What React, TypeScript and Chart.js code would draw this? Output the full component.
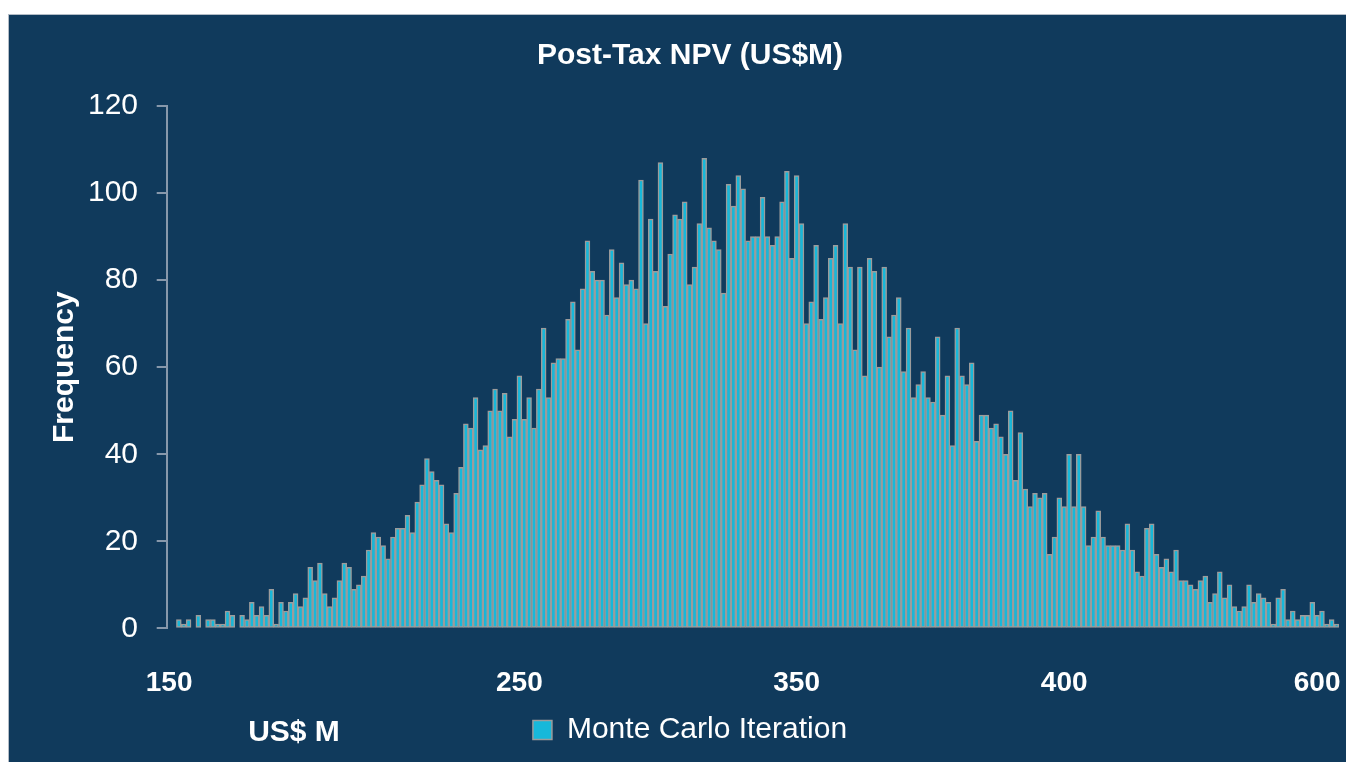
import React, { useEffect, useRef } from "react";
import { Chart, registerables } from "chart.js";

Chart.register(...registerables);

// Histogram bin frequencies (Monte Carlo iterations per NPV bin), left to right
const frequencies: number[] = [
  0, 0,
  2, 1, 2, 0, 3, 0, 2, 2, 1, 1, 4, 3, 0, 3, 2, 6, 3, 5, 3, 9, 1, 6, 4, 6, 8, 5, 7, 14, 11, 15, 8, 5, 7, 11, 15, 14, 9, 10,
  12, 18, 22, 21, 19, 16, 21, 23, 23, 26, 22, 29, 33, 39, 36, 34, 33, 24, 22, 31, 37, 47, 46, 53, 41, 42, 50, 55, 50, 54, 44, 48, 58, 48, 53, 46, 55,
  69, 53, 61, 62, 62, 71, 75, 64, 78, 89, 82, 80, 80, 72, 87, 76, 84, 79, 80, 78, 103, 70, 94, 82, 107, 74, 86, 95, 94, 98, 79, 83, 93, 108, 92, 89, 87, 77, 102,
  97, 104, 101, 89, 90, 90, 99, 90, 88, 90, 98, 105, 85, 104, 93, 70, 75, 88, 71, 76, 85, 88, 70, 93, 83, 64, 83, 58, 85, 82, 60, 83, 67, 72, 76, 59, 69, 53, 56,
  59, 53, 52, 67, 49, 58, 42, 69, 58, 56, 61, 43, 49, 49, 46, 47, 44, 40, 50, 34, 45, 32, 28, 31, 30, 31, 17, 21, 30, 28, 40, 28, 40, 28, 19, 21, 27, 21, 19, 19, 19,
  18, 24, 18, 13, 12, 23, 24, 17, 14, 16, 13, 18, 11, 11, 10, 9, 11, 12, 6, 8, 13, 7, 10, 5, 4, 5, 10, 6, 8, 7, 6, 1, 7, 9, 2, 4, 2, 3, 3, 6, 3, 4, 1, 2, 1,
];

// X axis labels shown under certain bins
const tickLabels: string[] = ["150", "250", "350", "400", "600"];
const tickBinIndices: number[] = [0, 72, 129, 184, 236];

// Y axis ticks
const yMin = 0;
const yMax = 120;
const yStep = 20;

const chartTitle = "Post-Tax NPV (US$M)";
const yAxisTitle = "Frequency";
const xAxisTitle = "US$ M";
const seriesName = "Monte Carlo Iteration";

const categories: string[] = frequencies.map((_, i) => {
  const k = tickBinIndices.indexOf(i);
  return k >= 0 ? tickLabels[k] : "";
});

const FONT = "'Liberation Sans', Arial, Helvetica, sans-serif";
const BG = "#103a5c";
const AXIS = "#8798ab";

const xTitlePlugin = {
  id: "xTitleLeft",
  afterDraw(chart: any) {
    const { ctx, chartArea } = chart;
    ctx.save();
    ctx.fillStyle = "#ffffff";
    ctx.font = `bold 30px ${FONT}`;
    ctx.textAlign = "center";
    ctx.textBaseline = "middle";
    ctx.fillText(xAxisTitle, chartArea.left + 127.3, chartArea.bottom + 104);
    ctx.restore();
  },
};

export default function App() {
  const canvasRef = useRef<HTMLCanvasElement | null>(null);

  useEffect(() => {
    const canvas = canvasRef.current;
    if (!canvas) return;
    const chart = new Chart(canvas, {
      type: "bar",
      data: {
        labels: categories,
        datasets: [
          {
            label: seriesName,
            data: frequencies,
            backgroundColor: "#17b8da",
            borderColor: "#9c9c9c",
            borderWidth: 1.5,
            borderSkipped: false,
            barPercentage: 1,
            categoryPercentage: 1,
          },
        ],
      },
      options: {
        animation: false,
        responsive: true,
        maintainAspectRatio: false,
        layout: { padding: { left: 32, right: 7, top: 0, bottom: 7 } },
        plugins: {
          title: {
            display: true,
            text: chartTitle,
            color: "#ffffff",
            font: { family: FONT, size: 30, weight: "bold" },
            padding: { top: 23, bottom: 32 },
          },
          legend: {
            display: true,
            position: "bottom",
            labels: {
              color: "#ffffff",
              font: { family: FONT, size: 30 },
              boxWidth: 19,
              boxHeight: 19,
              padding: 15,
            },
          },
          tooltip: { enabled: false },
        },
        scales: {
          x: {
            grid: { display: false, drawTicks: false },
            border: { display: false },
            ticks: {
              color: "#ffffff",
              font: { family: FONT, size: 28, weight: "bold" },
              autoSkip: false,
              maxRotation: 0,
              minRotation: 0,
              padding: 38,
            },
            afterFit: (scale: any) => {
              scale.height = 71.6;
              scale.paddingLeft = 0;
              scale.paddingRight = 0;
            },
          },
          y: {
            min: yMin,
            max: yMax,
            ticks: {
              stepSize: yStep,
              color: "#ffffff",
              font: { family: FONT, size: 30 },
              padding: 18.7,
            },
            grid: {
              display: true,
              drawOnChartArea: false,
              drawTicks: true,
              tickLength: 10,
              color: AXIS,
              lineWidth: 2,
            },
            border: { display: true, color: AXIS, width: 2 },
            title: {
              display: true,
              text: yAxisTitle,
              color: "#ffffff",
              font: { family: FONT, size: 30, weight: "bold" },
              padding: { top: 6, bottom: 0 },
            },
            afterFit: (scale: any) => {
              scale.width = 125.7;
            },
          },
        },
      } as any,
      plugins: [xTitlePlugin],
    });
    return () => chart.destroy();
  }, []);

  return (
    <div
      style={{
        position: "fixed",
        left: 8,
        top: 14,
        width: 1345,
        height: 760,
        background: BG,
        border: "1px solid #b3bcc6",
        boxSizing: "border-box",
      }}
    >
      <div style={{ position: "absolute", left: 0, top: 0, width: 1337, height: 747 }}>
        <canvas ref={canvasRef} />
      </div>
    </div>
  );
}
